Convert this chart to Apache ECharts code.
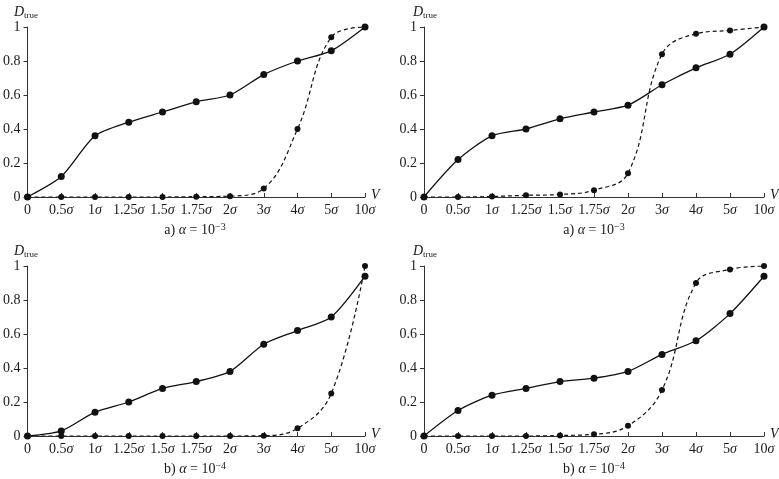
<!DOCTYPE html>
<html>
<head>
<meta charset="utf-8">
<script src="https://cdn.jsdelivr.net/npm/echarts@6/dist/echarts.min.js"></script>
<style>
  html, body { margin: 0; padding: 0; background: #fff; }
  #chart { width: 779px; height: 479px; }
</style>
</head>
<body>
<div id="chart"></div>
<script>
// V categories (sigma multiples)
const vLabels = ['0', '0.5', '1', '1.25', '1.5', '1.75', '2', '3', '4', '5', '10'];

// panel a, left
const a1Solid  = [0, 0.12, 0.36, 0.44, 0.50, 0.56, 0.60, 0.72, 0.80, 0.86, 1.0];
const a1Dashed = [0, 0, 0, 0, 0, 0.002, 0.005, 0.05, 0.40, 0.94, 1.0];
// panel a, right
const a2Solid  = [0, 0.22, 0.36, 0.40, 0.46, 0.50, 0.54, 0.66, 0.76, 0.84, 1.0];
const a2Dashed = [0, 0, 0.003, 0.01, 0.015, 0.04, 0.14, 0.84, 0.96, 0.98, 1.0];
// panel b, left
const b1Solid  = [0, 0.03, 0.14, 0.20, 0.28, 0.32, 0.38, 0.54, 0.62, 0.70, 0.94];
const b1Dashed = [0, 0, 0, 0, 0, 0, 0, 0.002, 0.045, 0.25, 1.0];
// panel b, right
const b2Solid  = [0, 0.15, 0.24, 0.28, 0.32, 0.34, 0.38, 0.48, 0.56, 0.72, 0.94];
const b2Dashed = [0, 0, 0, 0, 0.003, 0.01, 0.06, 0.27, 0.90, 0.98, 1.0];

const captions = [
  ['a)', '3'], ['a)', '3'], ['b)', '4'], ['b)', '4']
];

const font = "'Liberation Serif', 'Times New Roman', serif";
const ink = '#1a1a1a';

const grids = [
  { left: 25, top: 27, width: 340, height: 170 },
  { left: 424, top: 27, width: 340, height: 170 },
  { left: 25, top: 266, width: 340, height: 170 },
  { left: 424, top: 266, width: 340, height: 170 }
];

const panels = [
  [a1Solid, a1Dashed], [a2Solid, a2Dashed], [b1Solid, b1Dashed], [b2Solid, b2Dashed]
];

const chart = echarts.init(document.getElementById('chart'));

const xAxes = grids.map((g, i) => ({
  type: 'category',
  gridIndex: i,
  data: vLabels,
  boundaryGap: false,
  axisLine: { lineStyle: { color: '#333', width: 1 } },
  axisTick: { inside: true, length: 4, lineStyle: { color: '#333' } },
  axisLabel: {
    margin: 6,
    color: ink,
    fontFamily: font,
    fontSize: 14,
    interval: 0,
    formatter: v => v === '0' ? '0' : v + '{i|σ}',
    rich: { i: { fontStyle: 'italic', fontFamily: font, fontSize: 14, color: ink } }
  }
}));

const yAxes = grids.map((g, i) => ({
  type: 'value',
  gridIndex: i,
  min: 0,
  max: 1,
  interval: 0.2,
  axisLine: { show: true, lineStyle: { color: '#333', width: 1 } },
  axisTick: { show: true, length: 4, lineStyle: { color: '#333' } },
  splitLine: { show: false },
  axisLabel: {
    margin: 7,
    color: ink,
    fontFamily: font,
    fontSize: 14,
    formatter: v => String(+v.toFixed(1))
  }
}));

const series = [];
panels.forEach((p, i) => {
  series.push({
    type: 'line', xAxisIndex: i, yAxisIndex: i,
    data: p[1], smooth: 0.4,
    symbol: 'circle', symbolSize: 6,
    itemStyle: { color: '#111' },
    lineStyle: { color: '#111', width: 1.2, type: [4, 3] },
    z: 2
  });
  series.push({
    type: 'line', xAxisIndex: i, yAxisIndex: i,
    data: p[0], smooth: 0.25,
    symbol: 'circle', symbolSize: 7,
    itemStyle: { color: '#111' },
    lineStyle: { color: '#111', width: 1.3 },
    z: 3
  });
});

const titles = [];
grids.forEach((g, i) => {
  titles.push({
    text: '{d|D}{s|true}',
    left: g.left - 11,
    top: g.top - 22,
    padding: 0,
    textStyle: {
      fontWeight: 'normal',
      rich: {
        d: { fontFamily: font, fontStyle: 'italic', fontWeight: 'normal', fontSize: 14, color: ink },
        s: { fontFamily: font, fontWeight: 'normal', fontSize: 9, color: ink, verticalAlign: 'bottom', padding: [6, 0, 0, 0] }
      }
    }
  });
  titles.push({
    text: 'V',
    left: g.left + g.width + 6,
    top: g.top + g.height - 9,
    padding: 0,
    textStyle: { fontFamily: font, fontStyle: 'italic', fontWeight: 'normal', fontSize: 14, color: ink }
  });
  titles.push({
    text: captions[i][0] + ' {i|α} = 10{sup|−' + captions[i][1] + '}',
    left: g.left + g.width / 2,
    textAlign: 'center',
    top: g.top + g.height + 25,
    padding: 0,
    textStyle: {
      fontFamily: font, fontWeight: 'normal', fontSize: 14, color: ink,
      rich: {
        i: { fontFamily: font, fontStyle: 'italic', fontWeight: 'normal', fontSize: 14, color: ink },
        sup: { fontFamily: font, fontWeight: 'normal', fontSize: 10, color: ink, verticalAlign: 'top', padding: [0, 0, 6, 0] }
      }
    }
  });
});

chart.setOption({
  backgroundColor: '#fff',
  animation: false,
  title: titles,
  grid: grids,
  xAxis: xAxes,
  yAxis: yAxes,
  series: series
});
</script>
</body>
</html>
